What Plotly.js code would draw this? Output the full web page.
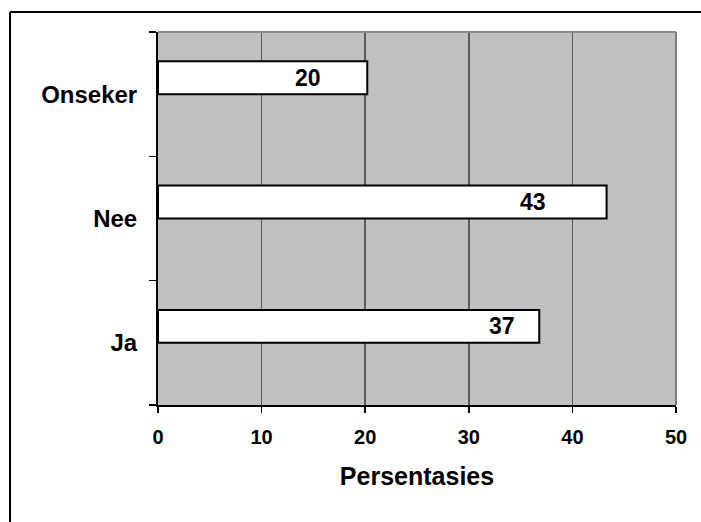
<!DOCTYPE html>
<html>
<head>
<meta charset="utf-8">
<script src="https://cdn.plot.ly/plotly-3.0.1.min.js"></script>
<style>
  html, body { margin: 0; padding: 0; background: #fff; overflow: hidden; }
  #chart { width: 701px; height: 522px; }
</style>
</head>
<body>
<div id="chart"></div>
<script>
// ---- data ----
const categories = ["Ja", "Nee", "Onseker"];
const percentages = [36.8, 43.3, 20.2];
const xTickValues = [0, 10, 20, 30, 40, 50];
const xTickLabels = ["0", "10", "20", "30", "40", "50"];
const xAxisTitle = "Persentasies";

// ---- style ----
const FONT = '"Liberation Sans", Arial, sans-serif';
const labelShift = [-22, -59, -44]; // px shift of value labels from bar end (style)

const trace = {
  type: 'bar',
  orientation: 'h',
  y: categories,
  x: percentages,
  width: 0.265,
  offset: 0,
  marker: { color: '#ffffff', line: { color: '#000000', width: 2 } },
  hoverinfo: 'skip',
  showlegend: false
};

const annotations = categories.map((c, i) => ({
  x: percentages[i],
  y: i + 0.1325,
  xref: 'x', yref: 'y',
  text: '<b>' + Math.round(percentages[i]) + '</b>',
  showarrow: false,
  xanchor: 'right',
  yanchor: 'middle',
  xshift: labelShift[i],
  font: { family: FONT, size: 23, color: '#000' }
}));

const leftX = (10 - 158) / 518;
const topY = (405 - 12) / 373;

const layout = {
  width: 701, height: 522,
  margin: { l: 158, r: 25, t: 32, b: 117 },
  paper_bgcolor: '#ffffff',
  plot_bgcolor: '#c0c0c0',
  font: { family: FONT, color: '#000' },
  xaxis: {
    range: [0, 50],
    tickvals: xTickValues,
    ticktext: xTickLabels.map(t => '<b>' + t + '</b>'),
    ticks: 'outside', ticklen: 6, tickwidth: 1.5, tickcolor: '#000',
    showline: true, linecolor: '#000', linewidth: 2,
    showgrid: true, gridcolor: '#5a5a5a', gridwidth: 1.5,
    zeroline: false,
    tickfont: { family: FONT, size: 20, color: '#000' },
    ticklabelstandoff: 7,
    title: { text: '<b>' + xAxisTitle + '</b>', font: { family: FONT, size: 25, color: '#000' }, standoff: 20 },
    fixedrange: true
  },
  yaxis: {
    type: 'category',
    categoryorder: 'array',
    categoryarray: categories,
    range: [-0.5, 2.5],
    tickson: 'boundaries',
    ticks: 'outside', ticklen: 7, tickwidth: 1.5, tickcolor: '#000',
    showline: true, linecolor: '#000', linewidth: 2,
    showgrid: false,
    zeroline: false,
    ticktext: categories.map(c => '<b>' + c + '</b>'),
    tickvals: categories,
    tickfont: { family: FONT, size: 24, color: '#000' },
    ticklabelstandoff: 14,
    fixedrange: true
  },
  shapes: [
    { type: 'line', xref: 'paper', yref: 'paper', x0: 0, x1: 1, y0: 1, y1: 1, line: { color: '#8a8a8a', width: 2 } },
    { type: 'line', xref: 'paper', yref: 'paper', x0: 1, x1: 1, y0: 0, y1: 1, line: { color: '#808080', width: 2 } },
    // outer chart border: left and top edges (others lie outside the picture)
    { type: 'line', xref: 'paper', yref: 'paper', x0: leftX, x1: leftX, y0: -1, y1: topY, line: { color: '#000', width: 2 } },
    { type: 'line', xref: 'paper', yref: 'paper', x0: leftX, x1: 2, y0: topY, y1: topY, line: { color: '#000', width: 2 } }
  ],
  annotations: annotations,
  bargap: 0
};

Plotly.newPlot('chart', [trace], layout, { displayModeBar: false, staticPlot: true });
</script>
</body>
</html>
